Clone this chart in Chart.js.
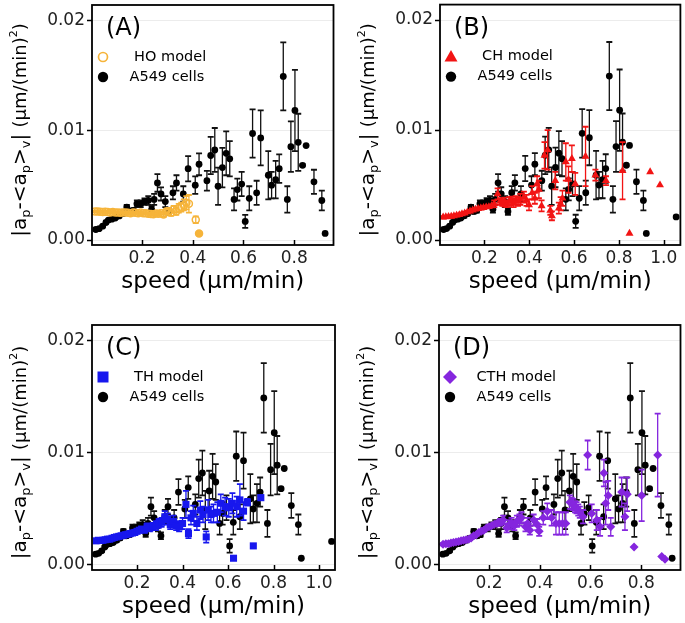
<!DOCTYPE html>
<html><head><meta charset="utf-8">
<script src="https://cdn.jsdelivr.net/npm/chart.js@4/dist/chart.umd.min.js"></script>
<style>
html,body{margin:0;padding:0;background:#fff;width:685px;height:623px;overflow:hidden}
canvas{position:absolute}
</style></head><body>
<canvas id="cA" width="340" height="305" style="left:0px;top:0px"></canvas>
<canvas id="cB" width="345" height="305" style="left:340px;top:0px"></canvas>
<canvas id="cC" width="340" height="313" style="left:0px;top:310px"></canvas>
<canvas id="cD" width="345" height="313" style="left:340px;top:310px"></canvas>
<script>
// ---------------- data ----------------
const yTickValues = [0.00, 0.01, 0.02];
const xTicksShort = [0.2, 0.4, 0.6, 0.8];
const xTicksLong = [0.2, 0.4, 0.6, 0.8, 1.0];
const xTitle = 'speed (µm/min)';
const cellsLabel = 'A549 cells';

const cellSpeed = [0.018,0.031,0.045,0.058,0.068,0.081,0.095,0.110,0.125,0.140,0.152,0.166,0.180,0.195,0.210,0.225,0.238,0.248,0.261,0.275,0.292,0.305,0.322,0.336,0.363,0.382,0.410,0.425,0.456,0.471,0.487,0.500,0.517,0.532,0.546,0.563,0.576,0.593,0.607,0.623,0.636,0.652,0.668,0.698,0.711,0.727,0.741,0.757,0.773,0.787,0.803,0.816,0.833,0.847,0.878,0.909,0.922,1.055];
const cellValue = [0.00096,0.00104,0.00126,0.0016,0.00182,0.0019,0.0020,0.0022,0.0024,0.0030,0.0026,0.0027,0.0033,0.0033,0.0035,0.0036,0.0028,0.0037,0.0052,0.0042,0.0035,0.0026,0.0043,0.0052,0.0042,0.0065,0.0050,0.0069,0.0054,0.0077,0.0082,0.0049,0.0066,0.0079,0.0074,0.0037,0.0046,0.0051,0.0017,0.0038,0.0097,0.0043,0.0093,0.0059,0.0050,0.0055,0.0065,0.0149,0.0037,0.0085,0.0118,0.0089,0.0068,0.0086,0.0053,0.0036,0.0006,0.0021];
const cellError = [0.0001,0.0001,0.0001,0.0001,0.0001,0.0001,0.0001,0.00015,0.00015,0.0002,0.0002,0.0002,0.0003,0.0003,0.0003,0.0004,0.0003,0.0005,0.0008,0.0006,0.0005,0.0003,0.0006,0.0007,0.0007,0.00115,0.0008,0.001,0.0009,0.0017,0.002,0.0017,0.0018,0.002,0.0016,0.001,0.001,0.0011,0.0006,0.0011,0.0022,0.0011,0.0025,0.0022,0.0012,0.0017,0.0013,0.0031,0.0012,0.0023,0.0037,0.0026,0.0001,0,0.0011,0.0009,0,0];

const hoSpeed = [0.015,0.025,0.035,0.045,0.055,0.065,0.075,0.085,0.095,0.105,0.115,0.125,0.135,0.145,0.155,0.165,0.175,0.185,0.195,0.205,0.215,0.225,0.235,0.245,0.255,0.265,0.275,0.285,0.295,0.305,0.315,0.325,0.335,0.345,0.355,0.365,0.375,0.385,0.412,0.425];
const hoValue = [0.0026,0.0026,0.00258,0.00255,0.00258,0.00255,0.00252,0.00255,0.0025,0.00252,0.00248,0.0025,0.00252,0.00248,0.00245,0.0025,0.00248,0.00245,0.0025,0.00243,0.00245,0.0024,0.00238,0.00235,0.00242,0.0024,0.00245,0.00232,0.0026,0.00262,0.0025,0.0028,0.0026,0.0029,0.003,0.0032,0.0034,0.0033,0.00185,0.0006];
const hoError = [0.00008,0.00008,0.00008,0.00008,0.00008,0.00008,0.00008,0.00008,0.00008,0.00008,0.00008,0.00008,0.00008,0.00008,0.00008,0.00008,0.00008,0.00008,0.00008,0.00008,0.00008,0.00008,0.00012,0.00012,0.00012,0.00012,0.00012,0.0002,0.0002,0.0003,0.0003,0.0003,0.0003,0.0004,0.0004,0.0005,0.0006,0.0008,0.0003,0];

const chSpeed = [0.016,0.028,0.040,0.052,0.064,0.076,0.088,0.100,0.112,0.124,0.136,0.148,0.160,0.172,0.184,0.196,0.208,0.220,0.232,0.244,0.259,0.270,0.280,0.290,0.300,0.310,0.320,0.330,0.340,0.350,0.360,0.376,0.388,0.399,0.413,0.425,0.435,0.443,0.455,0.468,0.482,0.494,0.501,0.516,0.532,0.540,0.548,0.563,0.575,0.590,0.605,0.651,0.695,0.742,0.816,0.847,0.939,0.983];
const chValue = [0.00208,0.0021,0.00212,0.00215,0.0022,0.00225,0.0023,0.00238,0.00245,0.00255,0.00262,0.00272,0.0028,0.00285,0.0029,0.00295,0.003,0.00302,0.0031,0.0033,0.0042,0.0035,0.0034,0.00345,0.0033,0.0035,0.00355,0.0034,0.0036,0.0035,0.0037,0.0039,0.0036,0.0032,0.0043,0.0038,0.0051,0.0046,0.0031,0.0077,0.0082,0.0027,0.0022,0.0054,0.0029,0.0033,0.0038,0.0071,0.0055,0.0074,0.0051,0.0076,0.0059,0.0054,0.0063,0.0006,0.0062,0.005];
const chError = [0.0001,0.0001,0.0001,0.0001,0.0001,0.0001,0.0001,0.0001,0.0001,0.0001,0.0001,0.0001,0.0001,0.0001,0.0001,0.0001,0.0001,0.0001,0.0001,0.0003,0.0005,0.0003,0.0003,0.0004,0.0003,0.0004,0.0004,0.0004,0.0004,0.0004,0.0005,0.0005,0.0005,0.0005,0.0006,0.0005,0.0007,0.0008,0.0005,0.0012,0.0018,0.0004,0.0004,0.0008,0.0005,0.0006,0.0007,0.0017,0.0012,0.0012,0.001,0.0027,0.0005,0.0004,0.0026,0,0,0];

const thSpeed = [0.02,0.03,0.04,0.05,0.06,0.07,0.08,0.09,0.1,0.11,0.12,0.13,0.14,0.15,0.16,0.17,0.18,0.19,0.2,0.21,0.22,0.232,0.244,0.256,0.27,0.283,0.295,0.308,0.322,0.334,0.346,0.36,0.372,0.385,0.4,0.415,0.426,0.437,0.447,0.463,0.478,0.49,0.504,0.512,0.525,0.536,0.553,0.568,0.587,0.603,0.619,0.624,0.638,0.652,0.668,0.685,0.711,0.744];
const thValue = [0.00215,0.0022,0.00218,0.0022,0.00225,0.0023,0.0023,0.00238,0.00245,0.0025,0.00255,0.0026,0.00265,0.0027,0.00275,0.0028,0.00285,0.0029,0.003,0.0031,0.0032,0.0031,0.0034,0.0033,0.00345,0.0035,0.0037,0.0038,0.0043,0.0041,0.0036,0.0039,0.0035,0.0034,0.0037,0.0054,0.0028,0.0042,0.0046,0.0037,0.0049,0.0045,0.0025,0.0049,0.0045,0.0046,0.0047,0.0055,0.0052,0.0051,0.0055,0.0006,0.0052,0.0058,0.0048,0.0056,0.0017,0.006];
const thError = [0.0001,0.0001,0.0001,0.0001,0.0001,0.0001,0.0001,0.0001,0.0001,0.0001,0.0001,0.0001,0.0001,0.0001,0.0001,0.0001,0.0001,0.0001,0.0001,0.0002,0.0002,0.0002,0.0003,0.0003,0.0003,0.0004,0.0004,0.0004,0.0005,0.0005,0.0004,0.0005,0.0004,0.0004,0.0005,0.0012,0.0004,0.0006,0.0007,0.0006,0.0008,0.0007,0.0005,0.0009,0.0007,0.0008,0.0009,0.0008,0.0008,0.0008,0.0009,0,0.0009,0.0014,0.0008,0.0003,0,0.0002];

const cthSpeed = [0.019,0.03,0.04,0.05,0.06,0.07,0.08,0.09,0.1,0.11,0.12,0.13,0.14,0.15,0.16,0.17,0.18,0.19,0.2,0.21,0.22,0.232,0.244,0.256,0.27,0.28,0.289,0.3,0.31,0.32,0.328,0.344,0.352,0.361,0.376,0.39,0.398,0.414,0.43,0.447,0.464,0.477,0.49,0.503,0.519,0.526,0.532,0.539,0.545,0.552,0.558,0.571,0.589,0.605,0.625,0.638,0.653,0.66,0.67,0.68,0.723,0.736,0.745,0.772,0.802,0.865,0.881,0.894];
const cthValue = [0.00185,0.00188,0.0019,0.00195,0.002,0.00205,0.0021,0.00215,0.0022,0.00225,0.0023,0.0024,0.0026,0.0027,0.0029,0.003,0.0031,0.0033,0.0034,0.0035,0.0036,0.0037,0.0038,0.004,0.0033,0.0036,0.0037,0.0035,0.0039,0.004,0.0042,0.0034,0.0037,0.0031,0.004,0.0036,0.003,0.0042,0.0048,0.0042,0.0037,0.0037,0.0037,0.0037,0.0056,0.0055,0.0054,0.0052,0.0051,0.0049,0.0047,0.0043,0.0098,0.0046,0.004,0.0034,0.0082,0.0055,0.0062,0.0034,0.0065,0.0043,0.0063,0.0016,0.0062,0.0098,0.00075,0.0005];
const cthError = [0.0001,0.0001,0.0001,0.0001,0.0001,0.0001,0.0001,0.0001,0.0001,0.0001,0.0001,0.0001,0.0001,0.0001,0.0001,0.0001,0.0001,0.0001,0.0001,0.0001,0.0001,0.0002,0.0003,0.0004,0.0004,0.0004,0.0005,0.0004,0.0005,0.0005,0.0005,0.0004,0.0005,0.0004,0.0005,0.0005,0.0004,0.0006,0.0007,0.0007,0.0010,0.0010,0.0010,0.0010,0.0006,0.0005,0.0005,0.0005,0.0005,0.0005,0.0005,0.0006,0.0013,0.0008,0.0009,0.0008,0.0012,0.0019,0.0013,0.0008,0.0013,0.0012,0.0015,0,0.0023,0.0037,0,0];

// ---------------- styling ----------------
const FONT = '"DejaVu Sans", Verdana, sans-serif';
const ORANGE = '#F6B43A', RED = '#F21414', BLUE = '#1717EE', PURPLE = '#8526DE', BLACK = '#000000';

function pts(xs, ys) { return xs.map((x, i) => ({ x: x, y: ys[i] })); }

function drawMarker(ctx, style, x, y, color, open) {
  ctx.beginPath();
  if (style === 'circle') ctx.arc(x, y, open ? 4.5 : 5.2, 0, 2 * Math.PI);
  else if (style === 'triangle') { ctx.moveTo(x, y - 6.5); ctx.lineTo(x + 6.5, y + 5); ctx.lineTo(x - 6.5, y + 5); ctx.closePath(); }
  else if (style === 'rect') ctx.rect(x - 5.5, y - 5.5, 11, 11);
  else if (style === 'rectRot') { ctx.moveTo(x, y - 7); ctx.lineTo(x + 7, y); ctx.lineTo(x, y + 7); ctx.lineTo(x - 7, y); ctx.closePath(); }
  if (open) { ctx.strokeStyle = color; ctx.lineWidth = 1.7; ctx.stroke(); }
  else { ctx.fillStyle = color; ctx.fill(); }
}

const decoPlugin = {
  id: 'deco',
  beforeDatasetDraw(chart, args) {
    const ds = chart.data.datasets[args.index];
    if (!ds.errors) return;
    const xs = chart.scales.x, ys = chart.scales.y, ca = chart.chartArea, ctx = chart.ctx;
    ctx.save();
    ctx.beginPath(); ctx.rect(ca.left, ca.top, ca.right - ca.left, ca.bottom - ca.top); ctx.clip();
    ctx.strokeStyle = ds.errorColor;
    ds.data.forEach((p, i) => {
      const e = ds.errors[i];
      if (!e) return;
      const x = xs.getPixelForValue(p.x);
      const y1 = ys.getPixelForValue(p.y - e), y2 = ys.getPixelForValue(p.y + e);
      ctx.lineWidth = 1.3;
      ctx.beginPath(); ctx.moveTo(x, y1); ctx.lineTo(x, y2); ctx.stroke();
      ctx.lineWidth = 1.8;
      ctx.beginPath();
      ctx.moveTo(x - 3, y1); ctx.lineTo(x + 3, y1);
      ctx.moveTo(x - 3, y2); ctx.lineTo(x + 3, y2);
      ctx.stroke();
    });
    ctx.restore();
  },
  afterDraw(chart, args, o) {
    const ctx = chart.ctx, ca = chart.chartArea, xs = chart.scales.x;
    ctx.save();
    // frame
    ctx.strokeStyle = '#000'; ctx.lineWidth = 1.8;
    ctx.strokeRect(ca.left, ca.top, ca.right - ca.left, ca.bottom - ca.top);
    // inward x ticks
    ctx.lineWidth = 1.5;
    o.xTicks.forEach(v => {
      const px = Math.round(xs.getPixelForValue(v)) + 0.5;
      ctx.beginPath(); ctx.moveTo(px, ca.bottom); ctx.lineTo(px, ca.bottom - 5); ctx.stroke();
    });
    // x title
    ctx.fillStyle = '#000';
    ctx.font = '23px ' + FONT; ctx.textAlign = 'center'; ctx.textBaseline = 'middle';
    ctx.fillText(xTitle, (ca.left + ca.right) / 2, ca.bottom + 37);
    // y title with sub/superscripts
    const segs = [
      { t: '|a', s: 20, dy: 0 }, { t: 'p', s: 13, dy: 4 }, { t: '-<a', s: 20, dy: 0 }, { t: 'p', s: 13, dy: 4 },
      { t: '>', s: 20, dy: 0 }, { t: 'v', s: 13, dy: 4 }, { t: '| ', s: 20, dy: 0 },
      { t: '(µm/(min)', s: 18, dy: 0 }, { t: '2', s: 11, dy: -9 }, { t: ')', s: 18, dy: 0 }
    ];
    let total = 0;
    segs.forEach(g => { ctx.font = g.s + 'px ' + FONT; g.w = ctx.measureText(g.t).width; total += g.w; });
    const cy = (ca.top + ca.bottom) / 2 + 5;
    ctx.translate(ca.left - 66, cy + total / 2);
    ctx.rotate(-Math.PI / 2);
    ctx.textAlign = 'left'; ctx.textBaseline = 'alphabetic';
    let cx = 0;
    segs.forEach(g => { ctx.font = g.s + 'px ' + FONT; ctx.fillText(g.t, cx, g.dy); cx += g.w; });
    ctx.setTransform(1, 0, 0, 1, 0, 0);
    // panel label
    ctx.font = '24px ' + FONT; ctx.textAlign = 'left'; ctx.textBaseline = 'middle'; ctx.fillStyle = '#000';
    ctx.fillText(o.label, ca.left + 14, ca.top + 24);
    // legend
    const mx = ca.left + 11, tx = ca.left + 37.5;
    drawMarker(ctx, o.style, mx, ca.top + 52, o.color, o.open);
    drawMarker(ctx, 'circle', mx, ca.top + 72, BLACK, false);
    ctx.fillStyle = '#000'; ctx.font = '14.5px ' + FONT; ctx.textBaseline = 'middle';
    ctx.fillText(o.name, tx, ca.top + 52);
    ctx.fillText(cellsLabel, tx, ca.top + 72);
    ctx.restore();
  }
};

function makePanel(p) {
  const modelDs = {
    label: p.name, data: pts(p.xs, p.ys), errors: p.es, errorColor: p.color,
    pointStyle: p.style, pointRadius: p.radius, pointHoverRadius: p.radius,
    pointBorderColor: p.color, pointBorderWidth: p.open ? 1.5 : 0,
    pointBackgroundColor: p.open ? (c => c.dataIndex === p.xs.length - 1 ? p.color : 'rgba(255,255,255,0)') : p.color,
    showLine: false
  };
  const cellDs = {
    label: cellsLabel, data: pts(cellSpeed, cellValue), errors: cellError, errorColor: '#111',
    pointStyle: 'circle', pointRadius: 3.4, pointHoverRadius: 3.4, pointBorderWidth: 0,
    pointBackgroundColor: BLACK, showLine: false
  };
  new Chart(document.getElementById(p.id), {
    type: 'scatter',
    data: { datasets: [modelDs, cellDs] },
    options: {
      responsive: false, animation: false, devicePixelRatio: 1,
      layout: { padding: { left: 0, right: p.padR, top: p.padT, bottom: 0 } },
      plugins: {
        legend: { display: false }, tooltip: { enabled: false },
        deco: { label: p.label, name: p.name, style: p.style, color: p.color, open: p.open, xTicks: p.xTicks }
      },
      scales: {
        x: {
          type: 'linear', min: p.xMin, max: p.xMax,
          afterFit: s => { s.height = p.xH; s.paddingLeft = 0; s.paddingRight = 0; },
          afterBuildTicks: s => { s.ticks = p.xTicks.map(v => ({ value: v })); },
          grid: { display: false, drawTicks: false },
          border: { display: false },
          ticks: { font: { family: FONT, size: 17 }, color: '#222', padding: 3, maxRotation: 0, callback: v => v.toFixed(1) }
        },
        y: {
          type: 'linear', min: -0.00045, max: 0.0214,
          afterFit: s => { s.width = p.yW; s.paddingTop = 0; s.paddingBottom = 0; },
          afterBuildTicks: s => { s.ticks = yTickValues.map(v => ({ value: v })); },
          grid: { color: '#ececec', lineWidth: 1, drawTicks: true, tickLength: 5, tickColor: '#000', tickWidth: 1.5 },
          border: { display: false },
          ticks: { font: { family: FONT, size: 17 }, color: '#222', padding: 2, callback: v => v.toFixed(2) }
        }
      }
    },
    plugins: [decoPlugin]
  });
}

makePanel({ id: 'cA', label: '(A)', name: ' HO model', xs: hoSpeed, ys: hoValue, es: hoError, color: ORANGE, style: 'circle', radius: 3.5, open: true,
  xMin: 0.003, xMax: 0.955, xTicks: xTicksShort, yW: 92, padR: 6.5, padT: 1, xH: 60 });
makePanel({ id: 'cB', label: '(B)', name: ' CH model', xs: chSpeed, ys: chValue, es: chError, color: RED, style: 'triangle', radius: 4.6, open: false,
  xMin: 0.002, xMax: 1.074, xTicks: xTicksLong, yW: 100, padR: 1.5, padT: 1, xH: 60 });
makePanel({ id: 'cC', label: '(C)', name: ' TH model', xs: thSpeed, ys: thValue, es: thError, color: BLUE, style: 'rect', radius: 5, open: false,
  xMin: 0.002, xMax: 1.07, xTicks: xTicksLong, yW: 92, padR: 5, padT: 15, xH: 53 });
makePanel({ id: 'cD', label: '(D)', name: 'CTH model', xs: cthSpeed, ys: cthValue, es: cthError, color: PURPLE, style: 'rectRot', radius: 4.5, open: false,
  xMin: 0.003, xMax: 0.955, xTicks: xTicksShort, yW: 99, padR: 2, padT: 15, xH: 53 });
</script>
</body></html>
